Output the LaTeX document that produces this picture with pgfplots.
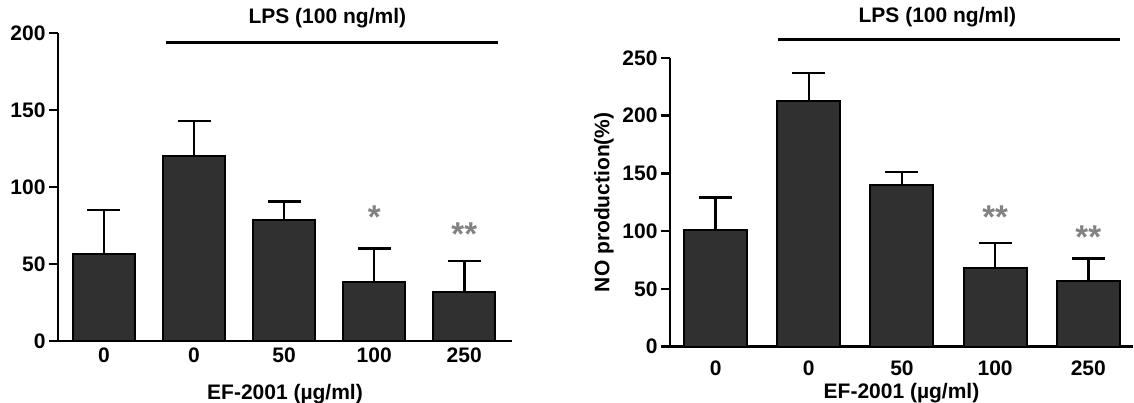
\documentclass[border=0pt]{standalone}
\usepackage{fontspec}
\setmainfont{Liberation Sans}
\usepackage{pgfplots}
\pgfplotsset{compat=1.18}
\definecolor{barfill}{HTML}{303030}
\definecolor{stargray}{HTML}{828282}
\tikzset{
  stars/.style={text=stargray, font=\bfseries\fontsize{33}{35}\selectfont},
  lps/.style={font=\bfseries\fontsize{21}{23}\selectfont}
}
\pgfplotsset{
  panel/.style={
    scale only axis,
    anchor=south west,
    axis x line*=bottom, axis y line*=left,
    axis line style={-, line width=2.5pt, black},
    ymin=0,
    xtick={0,...,4},
    xticklabels={0,0,50,100,250},
    x tick style={draw=none},
    y tick style={line width=2.5pt, black},
    major tick length=9pt,
    tick align=outside,
    ytick pos=left,
    /pgf/number format/assume math mode=true,
    ticklabel style={font=\bfseries\fontsize{21}{23}\selectfont},
    label style={font=\bfseries\fontsize{21}{23}\selectfont},
    xlabel={EF-2001 (µg/ml)},
    clip=false,
    ybar, bar shift=0pt,
  },
  bars/.style={fill=barfill, draw=black, line width=2pt,
    error bars/.cd, y dir=plus, y explicit,
    error bar style={line width=2.5pt, black},
    error mark options={rotate=90, mark size=16.5pt, line width=2.5pt, black}}
}
\begin{document}
\begin{tikzpicture}
\useasboundingbox (0,0) rectangle (1134pt,402pt);
\begin{axis}[panel, at={(58pt,61pt)}, width=454pt, height=308pt,
  xmin=-0.51, xmax=4.53, ymax=200, ytick={0,50,100,150,200}, bar width=62pt,
  xticklabel style={anchor=center, yshift=-5pt},
  xlabel style={at={(axis description cs:0.5,0)}, anchor=base, yshift=-58pt}]
\addplot[bars] coordinates {
 (0,56.5) +- (0,28.5)
 (1,120) +- (0,23)
 (2,78.6) +- (0,12)
 (3,38.5) +- (0,21.5)
 (4,31.6) +- (0,20.4)
};
\draw[line width=3pt] (axis cs:0.69,194) -- (axis cs:4.37,194);
\node[lps] at (axis cs:2.48,209.7) {LPS (100 ng/ml)};
\node[stars] at (axis cs:3,80.5) {*};
\node[stars] at (axis cs:4,69.5) {**};
\end{axis}
\begin{axis}[panel, at={(670pt,55.5pt)}, width=463pt, height=288.5pt,
  xmin=-0.49, xmax=4.48, ymax=250, ytick={0,50,100,150,200,250}, bar width=63pt,
  xticklabel style={anchor=center, yshift=-12.5pt},
  xlabel style={at={(axis description cs:0.5,0)}, anchor=base, yshift=-52pt},
  ylabel={NO production(\%)},
  ylabel style={at={(axis description cs:-0.1425,0.5)}, anchor=center}]
\addplot[bars] coordinates {
 (0,100.8) +- (0,28.2)
 (1,213) +- (0,24)
 (2,140) +- (0,11)
 (3,68.2) +- (0,21.6)
 (4,57) +- (0,19.3)
};
\draw[line width=3pt] (axis cs:0.67,265.7) -- (axis cs:4.34,265.7);
\node[lps] at (axis cs:2.38,285) {LPS (100 ng/ml)};
\node[stars] at (axis cs:3,112) {**};
\node[stars] at (axis cs:4,95) {**};
\end{axis}
\end{tikzpicture}
\end{document}
